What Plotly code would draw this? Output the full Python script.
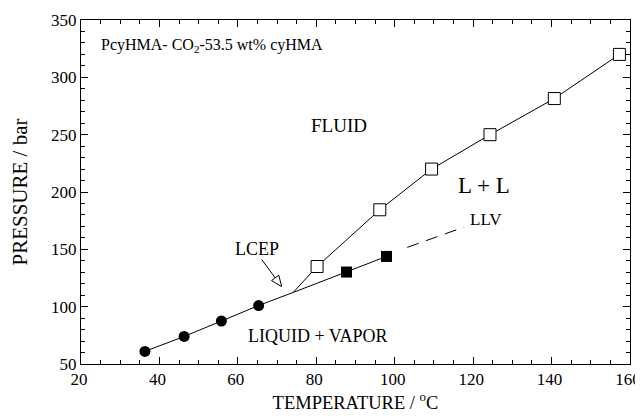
import plotly.graph_objects as go

# ---- data ----
vle_T = [36.3, 46.3, 55.8, 65.3]          # filled circles (L+V)
vle_P = [61, 74, 87.5, 101]
lcep_T = [74.1]
lcep_P = [112.4]
ll_T = [80.2, 96.2, 109.4, 124.3, 140.7, 157.3]   # open squares (L-L)
ll_P = [135, 184.5, 220, 250, 281.5, 320]
llv_T = [87.7, 97.9]                       # filled squares (LLV)
llv_P = [130.2, 143.8]
llv_dash_T = [103.2, 117.7]
llv_dash_P = [151.7, 169.4]

labels = ["FLUID", "L + L", "LLV", "LCEP", "LIQUID + VAPOR"]
label_T = [85.7, 122.7, 123.3, 65.0, 80.5]
label_P = [258, 206, 176, 150, 74.5]
label_size = [19, 23, 17, 18, 18]

xr = [20, 160]
yr = [50, 350]

FONT = "Liberation Serif, Times New Roman, serif"
W, H = 643, 420
OFF = 8  # default page body margin offsets the plot div
ml, mr, mt, mb = 81, 13, 20, 56   # plot area in window pixels
pw, ph = W - ml - mr, H - mt - mb

def px2data(px, py):
    x = xr[0] + (px - ml) / pw * (xr[1] - xr[0])
    y = yr[0] + (mt + ph - py) / ph * (yr[1] - yr[0])
    return x, y

fig = go.Figure()
line_style = dict(color="black", width=1)

fig.add_trace(go.Scatter(x=vle_T + lcep_T, y=vle_P + lcep_P, mode="lines", line=line_style, hoverinfo="skip"))
fig.add_trace(go.Scatter(x=lcep_T + ll_T, y=lcep_P + ll_P, mode="lines", line=line_style, hoverinfo="skip"))
fig.add_trace(go.Scatter(x=lcep_T + llv_T, y=lcep_P + llv_P, mode="lines", line=line_style, hoverinfo="skip"))
fig.add_trace(go.Scatter(x=llv_dash_T, y=llv_dash_P, mode="lines",
                         line=dict(color="black", width=1, dash="12px,8px"), hoverinfo="skip"))

fig.add_trace(go.Scatter(x=vle_T, y=vle_P, mode="markers",
                         marker=dict(symbol="circle", size=11, color="black")))
fig.add_trace(go.Scatter(x=ll_T, y=ll_P, mode="markers",
                         marker=dict(symbol="square", size=12, color="white", line=dict(width=1, color="black"))))
fig.add_trace(go.Scatter(x=llv_T, y=llv_P, mode="markers",
                         marker=dict(symbol="square", size=11, color="black")))

for t, x, y, s in zip(labels, label_T, label_P, label_size):
    fig.add_annotation(x=x, y=y, text=t, showarrow=False, font=dict(family=FONT, size=s, color="black"))

fig.add_annotation(x=24.6, y=327.5, xanchor="left", text="PcyHMA- CO<sub>2</sub>-53.5 wt% cyHMA",
                   showarrow=False, font=dict(family=FONT, size=16, color="black"))

# hollow arrow from LCEP label toward the LCEP point
tail_px = (261.7, 259.5)
tip_px = (281.7, 286.7)
dx, dy = tip_px[0] - tail_px[0], tip_px[1] - tail_px[1]
L = (dx ** 2 + dy ** 2) ** 0.5
ux, uy = dx / L, dy / L
nx, ny = uy, -ux
hl, hw = 11, 4.5
bc = (tip_px[0] - hl * ux, tip_px[1] - hl * uy)
c1 = (bc[0] + hw * nx, bc[1] + hw * ny)
c2 = (bc[0] - hw * nx, bc[1] - hw * ny)
pts = [px2data(*p) for p in (tail_px, bc)]
fig.add_shape(type="line", x0=pts[0][0], y0=pts[0][1], x1=pts[1][0], y1=pts[1][1],
              line=dict(color="black", width=1))
tri = [px2data(*p) for p in (tip_px, c1, c2)]
path = "M {} {} L {} {} L {} {} Z".format(tri[0][0], tri[0][1], tri[1][0], tri[1][1], tri[2][0], tri[2][1])
fig.add_shape(type="path", path=path, fillcolor="white", line=dict(color="black", width=1))

axis_common = dict(showgrid=False, zeroline=False, showline=True, linecolor="black", linewidth=1,
                   mirror="allticks", ticks="inside", ticklen=7, tickcolor="black",
                   ticklabeloverflow="allow", automargin=False,
                   tickfont=dict(family=FONT, size=17, color="black"))

fig.update_xaxes(range=xr, dtick=20, tick0=20, ticklabelshift=-2,
                 minor=dict(dtick=5, ticks="inside", ticklen=4, tickcolor="black"),
                 title=dict(text="TEMPERATURE / <sup>o</sup>C", font=dict(family=FONT, size=18.5, color="black"), standoff=5),
                 **axis_common)
fig.update_yaxes(range=yr, dtick=50, tick0=50,
                 minor=dict(dtick=10, ticks="inside", ticklen=4, tickcolor="black"),
                 title=dict(text="PRESSURE / bar", font=dict(family=FONT, size=21, color="black"), standoff=26),
                 **axis_common)

fig.update_layout(width=W - OFF, height=H - OFF,
                  margin=dict(l=ml - OFF, r=mr, t=mt - OFF, b=mb, autoexpand=False),
                  plot_bgcolor="white", paper_bgcolor="white", showlegend=False,
                  font=dict(family=FONT, color="black"))

fig.write_html("out.html")
